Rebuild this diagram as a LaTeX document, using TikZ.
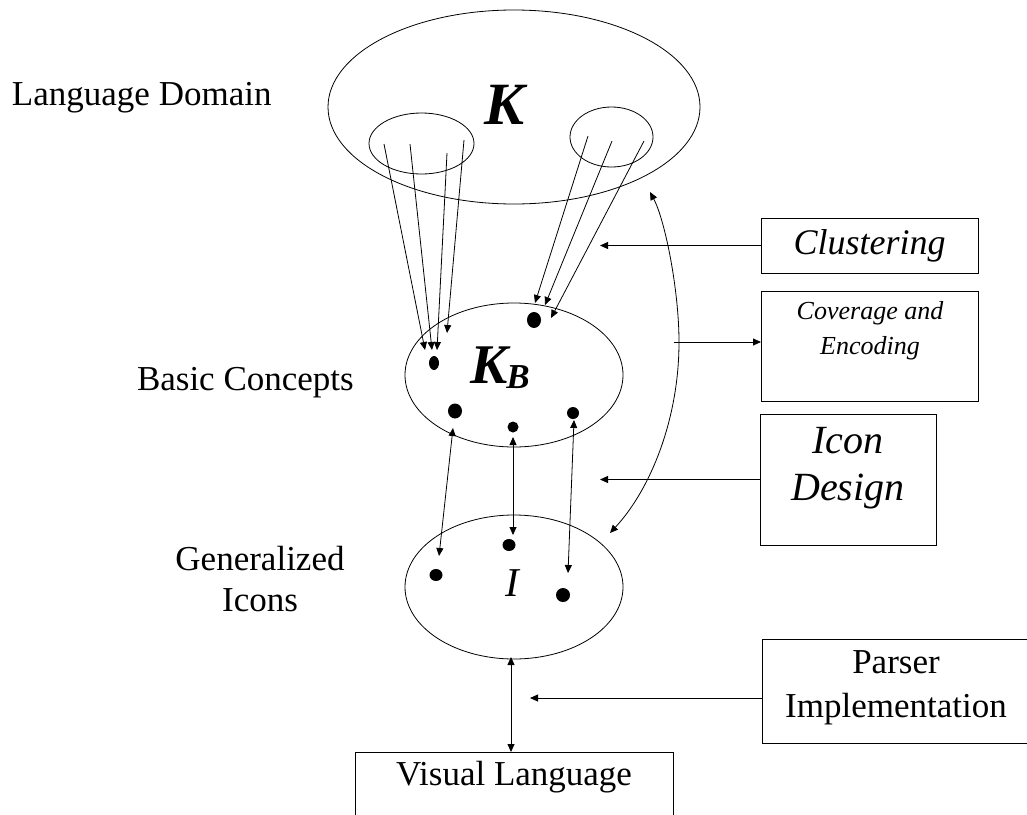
\documentclass[tikz,border=0pt]{standalone}
\usepackage{fontspec}
\setmainfont{Liberation Serif}
\usetikzlibrary{shapes.geometric,arrows.meta}
\begin{document}
\begin{tikzpicture}[x=1pt,y=-1pt,
  every node/.style={inner sep=0pt,outer sep=0pt},
  arr/.style={line width=0.8pt,-{Triangle[length=8pt,width=7pt]}},
  darr/.style={line width=0.8pt,{Triangle[length=8pt,width=7pt]}-{Triangle[length=8pt,width=7pt]}},
  setell/.style={draw,ellipse,line width=0.8pt},
  dot/.style={fill,ellipse},
  box/.style={draw,line width=0.9pt,rectangle},
  lbl/.style={font=\fontsize{35}{40}\selectfont,align=center},
]
\clip (0,0) rectangle (1027,814);
\fill[white] (0,0) rectangle (1027,814);

% sets
\node[setell,minimum width=372pt,minimum height=194pt] (K) at (514,107) {};
\node[font=\fontsize{60}{60}\selectfont\bfseries\itshape] (Kl) at (505,105) {K};
\node[setell,minimum width=105pt,minimum height=61pt] (L1) at (421.5,143.5) {};
\node[setell,minimum width=83pt,minimum height=60pt] (R1) at (611.5,137) {};

\node[setell,minimum width=218pt,minimum height=144pt] (KB) at (514,375) {};
\node[anchor=base west] (KBl) at (470,383) {\fontsize{56}{56}\selectfont\bfseries\itshape K\kern-1pt\raisebox{-5pt}{\fontsize{35}{35}\selectfont B}};

\node[setell,minimum width=218pt,minimum height=144pt] (I) at (514,587) {};
\node[font=\fontsize{41}{41}\selectfont\itshape] (Il) at (512,583) {I};

% dots
\node[dot,minimum width=10pt,minimum height=14pt] (kd1) at (434,363) {};
\node[dot,minimum width=14pt,minimum height=16pt] (kd2) at (534,320) {};
\node[dot,minimum width=14pt,minimum height=15pt] (kd3) at (455,411) {};
\node[dot,minimum width=11pt,minimum height=11pt] (kd4) at (513,427) {};
\node[dot,minimum width=12pt,minimum height=12pt] (kd5) at (573,413) {};
\node[dot,minimum width=13pt,minimum height=12pt] (id1) at (436,575) {};
\node[dot,minimum width=13pt,minimum height=12pt] (id2) at (509,545) {};
\node[dot,minimum width=14pt,minimum height=14pt] (id3) at (563,595) {};

% mapping arrows K -> KB
\coordinate (a1s) at (384,144); \coordinate (a1e) at (425,350);
\coordinate (a2s) at (410,144); \coordinate (a2e) at (432,350);
\coordinate (a3s) at (447,153); \coordinate (a3e) at (437,350);
\coordinate (a4s) at (464,140); \coordinate (a4e) at (447,333);
\coordinate (b1s) at (588,136); \coordinate (b1e) at (535,303);
\coordinate (b2s) at (612,141); \coordinate (b2e) at (545,305);
\coordinate (b3s) at (644,141); \coordinate (b3e) at (551,318);
\foreach \p in {a1,a2,a3,a4,b1,b2,b3} \draw[arr] (\p s) -- (\p e);

% KB <-> I
\coordinate (c1t) at (453,428); \coordinate (c1b) at (439,556);
\coordinate (c2t) at (513,437); \coordinate (c2b) at (513,535);
\coordinate (c3t) at (574,420); \coordinate (c3b) at (568,573);
\foreach \p in {c1,c2,c3} \draw[darr] (\p t) -- (\p b);

% I <-> Visual Language
\node[box,minimum width=318pt,minimum height=120pt,anchor=north] (VL) at (514,752) {};
\node[lbl] (VLt) at (514,777) {Visual Language};
\coordinate (Ibot) at (511,657);
\draw[darr] (Ibot) -- (Ibot |- VL.north);

% right boxes
\node[box,minimum width=217pt,minimum height=55pt] (CL) at (869.5,245.5) {};
\node[font=\fontsize{36}{40}\selectfont\itshape] (CLt) at (CL) {Clustering};
\node[box,minimum width=217pt,minimum height=110pt] (CE) at (869.5,346) {};
\node[anchor=north,align=center,font=\fontsize{26}{35}\selectfont\itshape] (CEt) at (870,301) {Coverage and\\Encoding};
\node[box,minimum width=176pt,minimum height=131pt] (ID) at (848,479.5) {};
\node[anchor=north,align=center,font=\fontsize{40}{47}\selectfont\itshape] (IDt) at (848,427) {Icon\\Design};
\node[box,minimum width=300pt,minimum height=104pt] (PI) at (912,691) {};
\node[anchor=north,lbl,font=\fontsize{35}{44}\selectfont] (PIt) at (896,651) {Parser\\Implementation};

\coordinate (clT) at (600,245.5);
\draw[arr] (CL.west) -- (clT);
\coordinate (ceS) at (674,342);
\draw[arr] (ceS) -- (ceS -| CE.west);
\coordinate (idT) at (600,479.5);
\draw[arr] (ID.west) -- (idT);
\coordinate (piT) at (530,698);
\draw[arr] (piT -| PI.west) -- (piT);

% curved arc
\coordinate (arcA) at (650,192);
\coordinate (arcB) at (610,533);
\draw[darr] (arcA) .. controls (665,220) and (679,290) .. (679,342) .. controls (679,420) and (650,490) .. (arcB);

% left labels
\node[lbl,anchor=base west] (LD) at (12,105) {Language Domain};
\node[lbl,anchor=base west] (BC) at (137,390) {Basic Concepts};
\node[lbl,anchor=base,font=\fontsize{35}{41}\selectfont] (GI) at (260,611) {Generalized\\Icons};
\end{tikzpicture}
\end{document}
